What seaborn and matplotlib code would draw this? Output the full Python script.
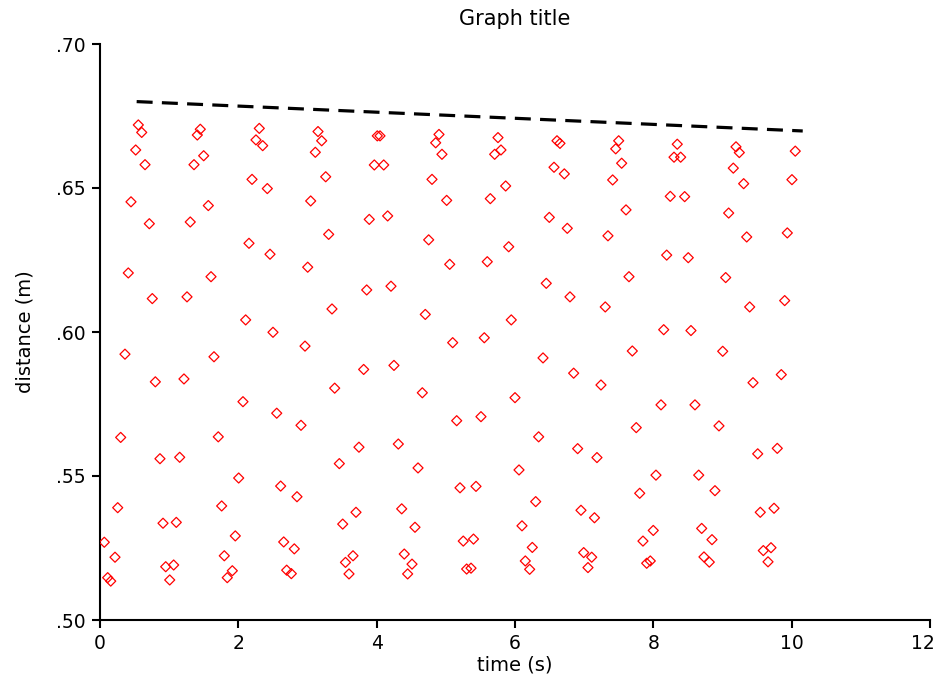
import matplotlib
matplotlib.use("Agg")
import matplotlib.pyplot as plt
import matplotlib.transforms as mtransforms
import seaborn as sns
import pandas as pd

# ---- data ----
time_s = [
    0.062, 0.111, 0.155, 0.217, 0.256, 0.299, 0.361, 0.409, 0.448, 0.516,
    0.554, 0.603, 0.651, 0.713, 0.756, 0.800, 0.867, 0.911, 0.950, 1.008,
    1.065, 1.103, 1.152, 1.214, 1.258, 1.305, 1.359, 1.407, 1.450, 1.499,
    1.566, 1.605, 1.648, 1.710, 1.759, 1.797, 1.840, 1.913, 1.956, 2.005,
    2.067, 2.106, 2.154, 2.198, 2.255, 2.303, 2.352, 2.419, 2.458, 2.501,
    2.555, 2.612, 2.656, 2.699, 2.766, 2.809, 2.848, 2.906, 2.964, 3.003,
    3.046, 3.113, 3.152, 3.205, 3.263, 3.306, 3.354, 3.393, 3.460, 3.509,
    3.549, 3.600, 3.658, 3.701, 3.744, 3.812, 3.856, 3.893, 3.966, 4.009,
    4.048, 4.102, 4.159, 4.207, 4.250, 4.313, 4.362, 4.399, 4.448, 4.511,
    4.554, 4.598, 4.660, 4.703, 4.752, 4.800, 4.853, 4.901, 4.944, 5.012,
    5.056, 5.099, 5.157, 5.205, 5.252, 5.301, 5.364, 5.400, 5.436, 5.508,
    5.556, 5.599, 5.643, 5.706, 5.754, 5.797, 5.865, 5.909, 5.946, 6.000,
    6.058, 6.101, 6.149, 6.212, 6.250, 6.299, 6.342, 6.405, 6.452, 6.496,
    6.564, 6.607, 6.650, 6.713, 6.756, 6.795, 6.848, 6.906, 6.954, 6.993,
    7.055, 7.109, 7.149, 7.185, 7.243, 7.305, 7.344, 7.412, 7.456, 7.499,
    7.542, 7.605, 7.648, 7.696, 7.753, 7.803, 7.850, 7.904, 7.956, 7.999,
    8.038, 8.111, 8.150, 8.193, 8.245, 8.299, 8.346, 8.395, 8.453, 8.505,
    8.544, 8.602, 8.656, 8.699, 8.732, 8.809, 8.848, 8.891, 8.949, 9.003,
    9.046, 9.089, 9.156, 9.195, 9.243, 9.306, 9.350, 9.393, 9.441, 9.509,
    9.546, 9.590, 9.658, 9.701, 9.745, 9.792, 9.850, 9.899, 9.937, 10.004,
    10.052,
]
distance_m = [
    0.5270, 0.5147, 0.5135, 0.5218, 0.5390, 0.5634, 0.5923, 0.6205, 0.6452, 0.6632,
    0.6719, 0.6693, 0.6581, 0.6376, 0.6116, 0.5827, 0.5560, 0.5336, 0.5185, 0.5139,
    0.5191, 0.5339, 0.5565, 0.5837, 0.6122, 0.6382, 0.6581, 0.6684, 0.6704, 0.6612,
    0.6439, 0.6192, 0.5914, 0.5636, 0.5396, 0.5223, 0.5147, 0.5171, 0.5292, 0.5493,
    0.5758, 0.6042, 0.6308, 0.6530, 0.6667, 0.6707, 0.6647, 0.6498, 0.6270, 0.5999,
    0.5718, 0.5465, 0.5271, 0.5173, 0.5161, 0.5247, 0.5428, 0.5676, 0.5951, 0.6225,
    0.6455, 0.6624, 0.6696, 0.6664, 0.6539, 0.6339, 0.6080, 0.5805, 0.5543, 0.5333,
    0.5200, 0.5160, 0.5223, 0.5374, 0.5600, 0.5870, 0.6146, 0.6391, 0.6580, 0.6681,
    0.6681, 0.6580, 0.6403, 0.6159, 0.5884, 0.5611, 0.5386, 0.5229, 0.5160, 0.5194,
    0.5322, 0.5528, 0.5789, 0.6061, 0.6320, 0.6530, 0.6657, 0.6686, 0.6617, 0.6457,
    0.6235, 0.5963, 0.5692, 0.5459, 0.5274, 0.5177, 0.5180, 0.5281, 0.5464, 0.5706,
    0.5980, 0.6244, 0.6463, 0.6617, 0.6675, 0.6632, 0.6507, 0.6296, 0.6042, 0.5772,
    0.5521, 0.5327, 0.5205, 0.5176, 0.5252, 0.5411, 0.5636, 0.5910, 0.6169, 0.6398,
    0.6572, 0.6664, 0.6655, 0.6549, 0.6360, 0.6122, 0.5857, 0.5595, 0.5381, 0.5234,
    0.5182, 0.5218, 0.5355, 0.5564, 0.5816, 0.6087, 0.6334, 0.6528, 0.6636, 0.6664,
    0.6586, 0.6424, 0.6192, 0.5934, 0.5668, 0.5440, 0.5274, 0.5197, 0.5205, 0.5311,
    0.5503, 0.5747, 0.6008, 0.6267, 0.6471, 0.6607, 0.6652, 0.6607, 0.6470, 0.6258,
    0.6005, 0.5747, 0.5503, 0.5318, 0.5219, 0.5201, 0.5279, 0.5449, 0.5674, 0.5933,
    0.6189, 0.6413, 0.6569, 0.6643, 0.6623, 0.6515, 0.6330, 0.6087, 0.5824, 0.5577,
    0.5374, 0.5241, 0.5202, 0.5251, 0.5388, 0.5596, 0.5852, 0.6109, 0.6344, 0.6529,
    0.6628,
]
fit_time = [0.53, 10.16]
fit_distance = [0.6800, 0.6698]

x_ticks = [0, 2, 4, 6, 8, 10, 12]
y_ticks = [0.50, 0.55, 0.60, 0.65, 0.70]
y_tick_labels = [".50", ".55", ".60", ".65", ".70"]
title_text = "Graph title"
x_label = "time (s)"
y_label = "distance (m)"

points = pd.DataFrame({"time": time_s, "distance": distance_m})
fit = pd.DataFrame({"time": fit_time, "distance": fit_distance})

sns.set_style("ticks")
plt.rcParams["font.family"] = ["DejaVu Sans"]
plt.rcParams["text.color"] = "black"
plt.rcParams["axes.labelcolor"] = "black"

fig = plt.figure(figsize=(9.38, 6.83), dpi=100)
ax = fig.add_axes([100 / 938, 63 / 683, 830 / 938, 576 / 683])

sns.scatterplot(data=points, x="time", y="distance", marker="D", s=26,
                facecolor="none", edgecolor="red", linewidth=0.9, ax=ax,
                zorder=3)
sns.lineplot(data=fit, x="time", y="distance", color="black", linewidth=2.3,
             linestyle=(0, (5.0, 2.9)), ax=ax, zorder=4)

ax.set_xlim(0, 12)
ax.set_ylim(0.5, 0.7)
ax.set_xticks(x_ticks)
ax.set_xticklabels([str(t) for t in x_ticks])
ax.set_yticks(y_ticks)
ax.set_yticklabels(y_tick_labels)
ax.tick_params(axis="both", direction="out", length=6, width=1.5,
               labelsize=13.5, colors="black", pad=4)
for side in ("left", "bottom"):
    ax.spines[side].set_linewidth(1.5)
    ax.spines[side].set_color("black")
sns.despine(ax=ax)

# keep the last x tick label inside the figure
last = ax.get_xticklabels()[-1]
last.set_transform(last.get_transform() +
                   mtransforms.ScaledTranslation(-7 / 100, 0, fig.dpi_scale_trans))

ax.set_xlabel(x_label, fontsize=14, labelpad=2, color="black")
ax.set_ylabel(y_label, fontsize=14, labelpad=16, color="black")
ax.set_title(title_text, fontsize=15, pad=14, color="black")

fig.savefig("out.png", dpi=100)
